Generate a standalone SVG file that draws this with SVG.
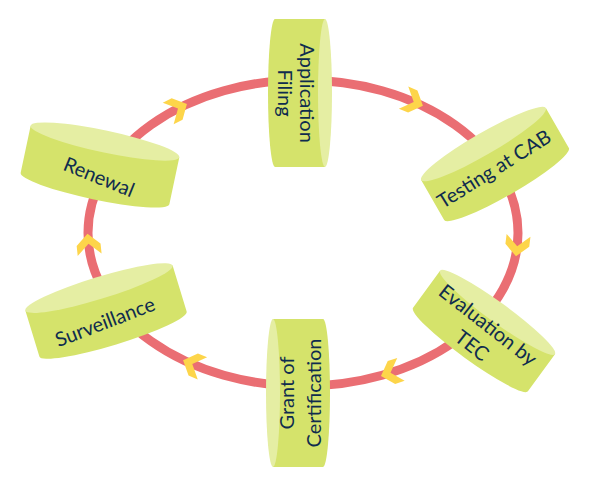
<svg xmlns="http://www.w3.org/2000/svg" width="599" height="486" viewBox="0 0 599 486">
<style>
.body{fill:#D5E36B;}
.top{fill:#E5EEA3;}
.lbl{font-family:Lato,"Open Sans","DejaVu Sans",sans-serif;font-size:20px;fill:#0F2C4E;text-anchor:middle;}
.chev{fill:#FDD54A;}
</style>
<defs>
<polygon id="chev" points="-11,-12 -1,-12 10,0 -1,12 -11,12 0,0"/>
</defs>
<rect width="599" height="486" fill="#FFFFFF"/>
<g id="connectors">
<ellipse cx="303" cy="233" rx="215" ry="153" fill="none" stroke="#EA6E73" stroke-width="9"/>
<use href="#chev" class="chev" transform="translate(178,108.5) rotate(-27)"/>
<use href="#chev" class="chev" transform="translate(413.7,101.9) rotate(23)"/>
<use href="#chev" class="chev" transform="translate(517.2,246.3) rotate(97)"/>
<use href="#chev" class="chev" transform="translate(390.5,372.8) rotate(162)"/>
<use href="#chev" class="chev" transform="translate(192.3,364.1) rotate(203)"/>
<use href="#chev" class="chev" transform="translate(88.5,243.7) rotate(264)"/>
</g>
<g id="application-filing">
<g transform="translate(300,93) rotate(90)">
<path class="body" d="M-74,-25 L-74,25 A74 7 0 0 0 74,25 L74,-25 Z"/>
<ellipse class="top" cx="0" cy="-25" rx="74" ry="7"/>
<text class="lbl" x="0" y="0">Application</text>
<text class="lbl" x="0" y="22">Filing</text>
</g>
</g>
<g id="testing-at-cab">
<g transform="translate(495,164) rotate(-30)">
<path class="body" d="M-72,-23 L-72,23 A72 11 0 0 0 72,23 L72,-23 Z"/>
<ellipse class="top" cx="0" cy="-23" rx="72" ry="11"/>
</g>
<text class="lbl" transform="translate(494,169) rotate(-32)" x="0" y="7">Testing at CAB</text>
</g>
<g id="evaluation-by-tec">
<g transform="translate(484,331) rotate(36)">
<path class="body" d="M-71,-23 L-71,23 A71 10 0 0 0 71,23 L71,-23 Z"/>
<ellipse class="top" cx="0" cy="-23" rx="71" ry="10"/>
</g>
<g transform="translate(488,325) rotate(38)">
<text class="lbl" x="0" y="7">Evaluation by</text>
<text class="lbl" x="0" y="33">TEC</text>
</g>
</g>
<g id="grant-of-certification">
<g transform="translate(298,393) rotate(-90)">
<path class="body" d="M-74,-25 L-74,25 A74 7 0 0 0 74,25 L74,-25 Z"/>
<ellipse class="top" cx="0" cy="-25" rx="74" ry="7"/>
<text class="lbl" x="0" y="-4">Grant of</text>
<text class="lbl" x="0" y="23">Certification</text>
</g>
</g>
<g id="surveillance">
<g transform="translate(106,311) rotate(-17)">
<path class="body" d="M-77,-24 L-77,24 A77 11 0 0 0 77,24 L77,-24 Z"/>
<ellipse class="top" cx="0" cy="-24" rx="77" ry="11"/>
</g>
<text class="lbl" transform="translate(105,322) rotate(-21)" x="0" y="7">Surveillance</text>
</g>
<g id="renewal">
<g transform="translate(100,165) rotate(12)">
<path class="body" d="M-76,-24 L-76,24 A76 11 0 0 0 76,24 L76,-24 Z"/>
<ellipse class="top" cx="0" cy="-24" rx="76" ry="11"/>
</g>
<text class="lbl" transform="translate(99,177) rotate(22)" x="0" y="7">Renewal</text>
</g>
</svg>
